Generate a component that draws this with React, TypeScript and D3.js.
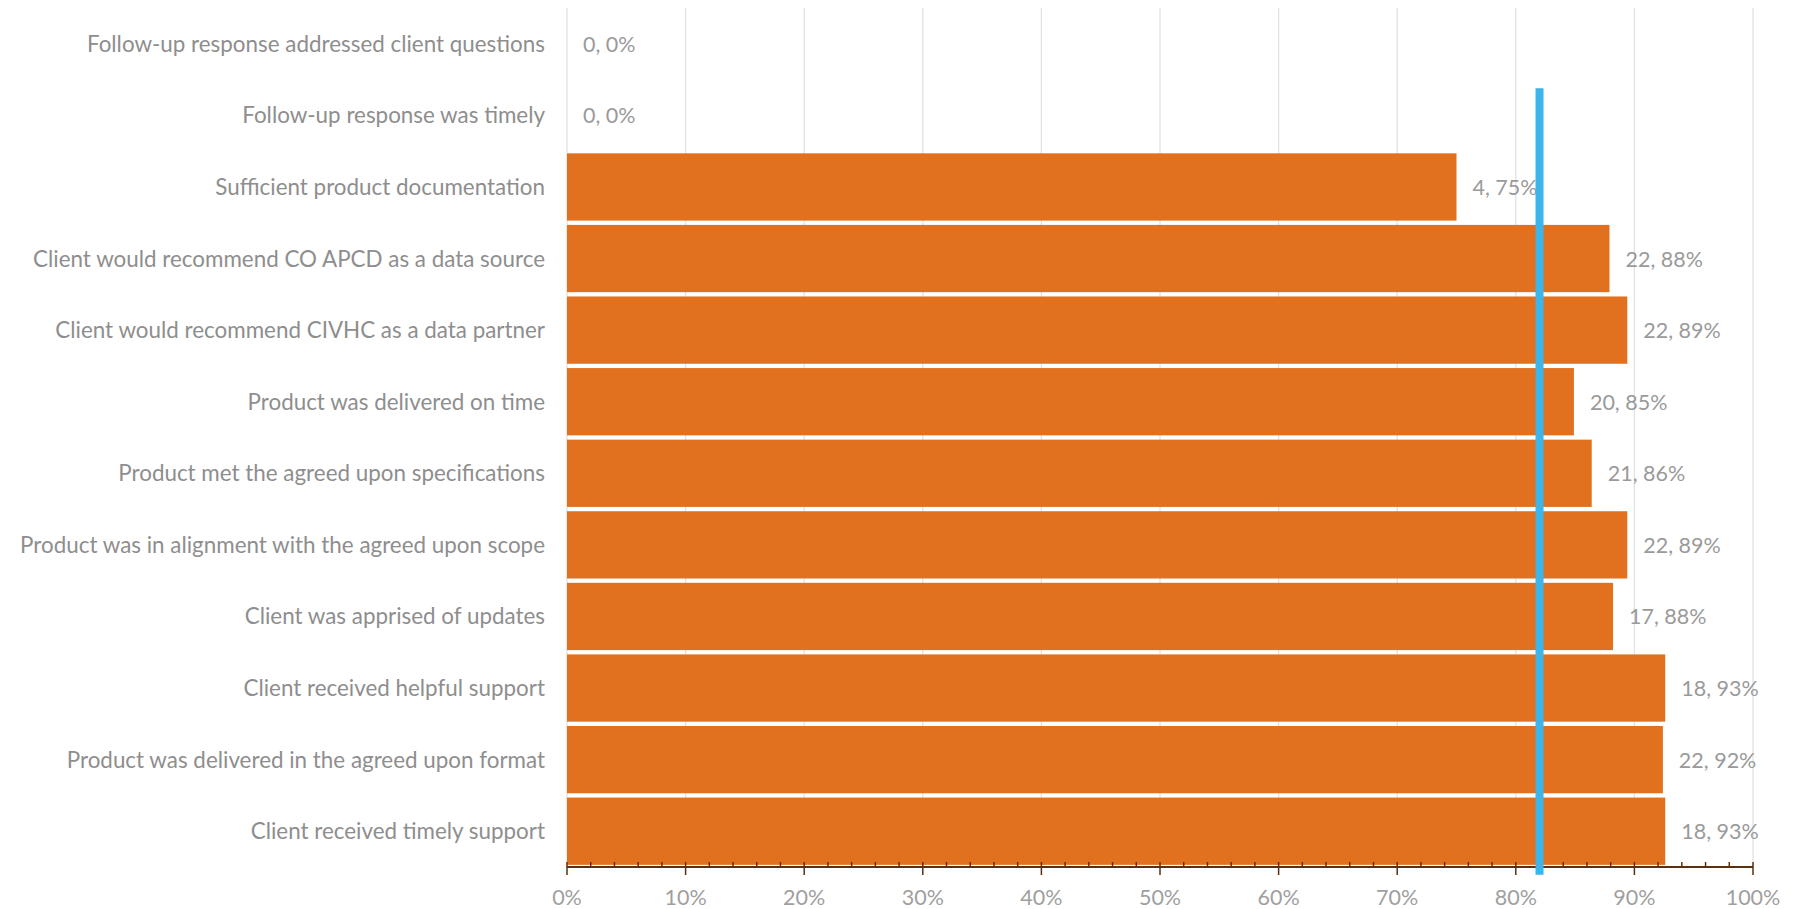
import React from "react";
import * as d3 from "d3";

const categories = [
  "Follow-up response addressed client questions",
  "Follow-up response was timely",
  "Sufficient product documentation",
  "Client would recommend CO APCD as a data source",
  "Client would recommend CIVHC as a data partner",
  "Product was delivered on time",
  "Product met the agreed upon specifications",
  "Product was in alignment with the agreed upon scope",
  "Client was apprised of updates",
  "Client received helpful support",
  "Product was delivered in the agreed upon format",
  "Client received timely support",
];
const counts = [0, 0, 4, 22, 22, 20, 21, 22, 17, 18, 22, 18];
const percents = [0, 0, 0.75, 0.879, 0.894, 0.849, 0.864, 0.894, 0.882, 0.926, 0.924, 0.926];
const targetValue = 0.82;
// target line extent in category-row units (0 = bottom of plot, 12 = top)
const targetExtent = [-0.11, 10.88];
const xTickValues = [0, 0.1, 0.2, 0.3, 0.4, 0.5, 0.6, 0.7, 0.8, 0.9, 1.0];

const W = 1804;
const H = 909;
const M = { left: 567, right: 51, top: 8, bottom: 42 };
const FONT = "Lato, 'Open Sans', sans-serif";

export default function App() {
  const plotBottom = H - M.bottom;
  const x = d3.scaleLinear().domain([0, 1]).range([M.left, W - M.right]);
  const y = d3
    .scaleBand<string>()
    .domain(categories)
    .range([M.top, plotBottom])
    .paddingInner(0.06)
    .paddingOuter(0.03);
  const yRow = d3.scaleLinear().domain([0, categories.length]).range([plotBottom, M.top]);
  const minor = d3.range(0, 50).map((i) => i / 50).filter((v) => Math.round(v * 50) % 5 !== 0);
  const axisColor = "#5e2f0d";
  const fs = 21.5;
  const fsCat = 22.4;

  return (
    <svg
      width={W}
      height={H}
      style={{ position: "absolute", left: 0, top: 0, background: "#fff" }}
      fontFamily={FONT}
    >
      {/* gridlines */}
      {xTickValues.map((t) => (
        <line
          key={"g" + t}
          x1={x(t)}
          x2={x(t)}
          y1={M.top}
          y2={plotBottom}
          stroke="#e2e2e2"
          strokeWidth={1.3}
        />
      ))}
      {/* bars */}
      {categories.map((c, i) => (
        <rect
          key={"b" + c}
          x={x(0)}
          y={y(c)}
          width={x(percents[i]) - x(0)}
          height={y.bandwidth()}
          fill="#e1711f"
        />
      ))}
      {/* data labels */}
      {categories.map((c, i) => (
        <text
          key={"l" + c}
          x={x(percents[i]) + 16}
          y={(y(c) as number) + y.bandwidth() / 2 + 8}
          fontSize={fs}
          fill="#9a9a9a"
        >
          {`${counts[i]}, ${Math.round(percents[i] * 100)}%`}
        </text>
      ))}
      {/* category labels */}
      {categories.map((c) => (
        <text
          key={"c" + c}
          x={M.left - 22}
          y={(y(c) as number) + y.bandwidth() / 2 + 8}
          fontSize={fsCat}
          fill="#8e8e8e"
          textAnchor="end"
        >
          {c}
        </text>
      ))}
      {/* x axis */}
      <line x1={x(0)} x2={x(1)} y1={plotBottom} y2={plotBottom} stroke={axisColor} strokeWidth={2} />
      {minor.map((t) => (
        <line
          key={"m" + t}
          x1={x(t)}
          x2={x(t)}
          y1={plotBottom - 5}
          y2={plotBottom}
          stroke={axisColor}
          strokeWidth={1.5}
        />
      ))}
      {xTickValues.map((t) => (
        <g key={"t" + t}>
          <line
            x1={x(t)}
            x2={x(t)}
            y1={plotBottom - 5}
            y2={plotBottom + 8}
            stroke={axisColor}
            strokeWidth={1.5}
          />
          <text x={x(t)} y={905} fontSize={fs} fill="#9f9f9f" textAnchor="middle">
            {d3.format(".0%")(t)}
          </text>
        </g>
      ))}
      {/* target line */}
      <line
        x1={x(targetValue)}
        x2={x(targetValue)}
        y1={yRow(targetExtent[0])}
        y2={yRow(targetExtent[1])}
        stroke="#3bb5ea"
        strokeWidth={8}
      />
    </svg>
  );
}
